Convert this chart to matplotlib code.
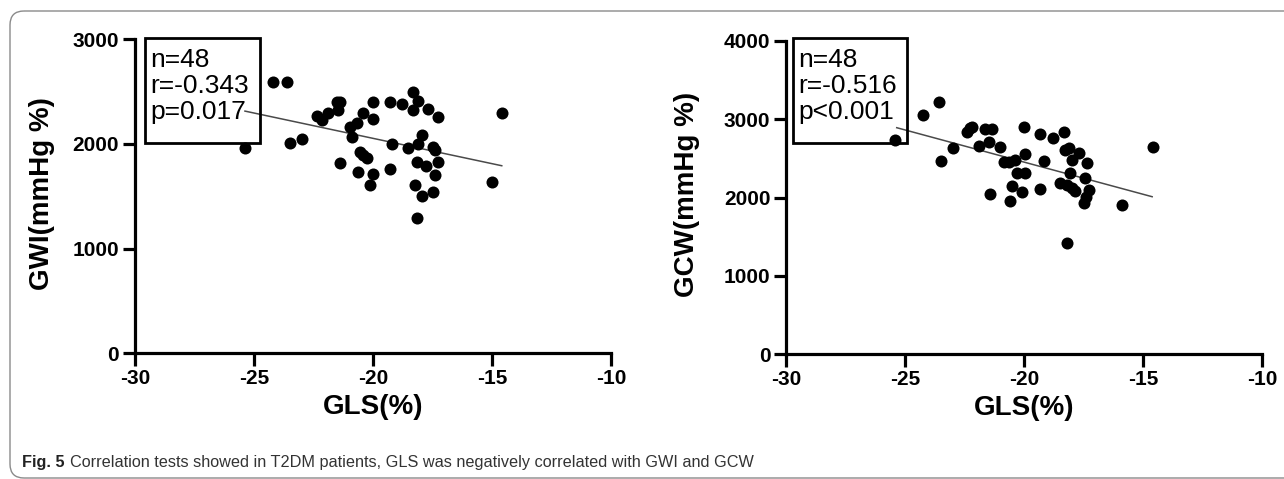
import matplotlib
matplotlib.use("Agg")
import matplotlib.pyplot as plt
from matplotlib.patches import Rectangle, FancyBboxPatch
import numpy as np

# ---------------- data ----------------
gls_gwi = [-24.19, -23.63, -25.38, -23.49, -22.97, -22.37, -22.16, -21.88, -21.53, -21.39,
           -21.46, -20.97, -20.68, -20.89, -20.41, -19.99, -19.99, -21.39, -20.55, -20.41,
           -20.26, -20.62, -19.99, -20.13, -19.29, -18.79, -18.31, -18.10, -18.31, -17.68,
           -17.26, -19.19, -18.52, -18.10, -17.95, -17.47, -17.39, -18.16, -17.79, -17.28,
           -17.39, -19.29, -18.24, -17.95, -17.47, -18.16, -15.00, -14.59]
gwi = [2594, 2594, 1958, 2011, 2044, 2266, 2228, 2292, 2403, 2403,
       2324, 2164, 2197, 2069, 2298, 2403, 2235, 1820, 1926, 1894,
       1868, 1734, 1713, 1607, 2403, 2381, 2499, 2413, 2324, 2333,
       2254, 1999, 1958, 1999, 2085, 1968, 1942, 1830, 1789, 1830,
       1703, 1757, 1607, 1505, 1543, 1289, 1639, 2292]
gwi_fit_x = [-25.38, -14.59]
gwi_fit_y = [2314, 1792]

gls_gcw = [-25.43, -24.24, -23.60, -23.50, -23.01, -22.41, -22.27, -22.20, -21.64, -21.36,
           -21.50, -21.92, -21.01, -21.43, -20.87, -20.66, -20.37, -20.30, -19.95, -20.51,
           -20.09, -20.61, -20.02, -19.95, -19.32, -18.79, -18.31, -19.18, -19.32, -18.27,
           -18.13, -17.99, -17.71, -18.09, -18.48, -18.20, -17.99, -17.85, -17.36, -17.43,
           -17.50, -17.29, -17.39, -15.88, -14.59, -18.20]
gcw = [2735, 3054, 3217, 2470, 2629, 2841, 2884, 2897, 2875, 2871,
       2713, 2658, 2649, 2045, 2458, 2458, 2479, 2309, 2309, 2151,
       2066, 1955, 2905, 2556, 2811, 2764, 2841, 2470, 2109, 2607,
       2629, 2479, 2565, 2309, 2189, 2160, 2118, 2083, 2437, 2245,
       1926, 2096, 2010, 1904, 2649, 1415]
gcw_fit_x = [-25.36, -14.62]
gcw_fit_y = [2892, 2010]

x_ticks = [-30, -25, -20, -15, -10]
gwi_ticks = [0, 1000, 2000, 3000]
gcw_ticks = [0, 1000, 2000, 3000, 4000]
stats_gwi = ["n=48", "r=-0.343", "p=0.017"]
stats_gcw = ["n=48", "r=-0.516", "p<0.001"]
caption_bold = "Fig. 5"
caption_text = "Correlation tests showed in T2DM patients, GLS was negatively correlated with GWI and GCW"

# ---------------- figure ----------------
W, H = 1284, 479
fig = plt.figure(figsize=(W / 100, H / 100), dpi=100)
fig.patch.set_facecolor("white")

FAM = ["Liberation Sans", "DejaVu Sans"]

# rounded frame + caption
bg = fig.add_axes([0, 0, 1, 1], zorder=-5)
bg.set_xlim(0, W)
bg.set_ylim(H, 0)
bg.axis("off")
bg.add_patch(FancyBboxPatch((10, 11), 1320, 467, boxstyle="round,pad=0,rounding_size=14",
                            fc="none", ec="#8a8a8a", lw=1.0))
bg.text(22, 462, caption_bold, fontsize=11.7, va="center", ha="left",
        family=FAM, weight="bold", color="#222")
bg.text(70, 462, caption_text, fontsize=11.7, va="center", ha="left",
        family=FAM, color="#333")


def panel(rect, x, y, fx, fy, yticks, ylabel, stats, box, ylab_x):
    ax = fig.add_axes(rect)
    ax.scatter(x, y, s=75, color="black", zorder=3, linewidths=0, clip_on=False)
    ax.plot(fx, fy, color="#4a4a4a", lw=1.1, zorder=2)
    ax.set_xlim(-30, -10)
    ax.set_ylim(yticks[0], yticks[-1])
    for s in ["top", "right"]:
        ax.spines[s].set_visible(False)
    for s in ["left", "bottom"]:
        ax.spines[s].set_linewidth(2.3)
    ax.set_xticks(x_ticks)
    ax.set_yticks(yticks)
    ax.set_xticklabels([str(t) for t in x_ticks])
    ax.set_yticklabels([str(t) for t in yticks])
    ax.tick_params(direction="out", length=9, width=2.3, pad=2.5, labelsize=15)
    for lab in ax.get_xticklabels() + ax.get_yticklabels():
        lab.set_fontfamily(FAM)
        lab.set_fontweight("bold")
    ax.set_xlabel("GLS(%)", fontsize=20, family=FAM, weight="bold")
    ax.set_ylabel(ylabel, fontsize=20, family=FAM, weight="bold")
    ax.xaxis.set_label_coords(0.5, -0.13)
    ax.yaxis.label.set_va("center")
    ax.yaxis.set_label_coords(ylab_x, 0.51)
    x0, x1, y0, y1 = box
    ax.add_patch(Rectangle((x0, y0), x1 - x0, y1 - y0, transform=ax.transAxes,
                           fill=False, ec="black", lw=2.0, clip_on=False, zorder=4))
    ax.text(x0 + 0.011, y1 - 0.03, "\n".join(stats), transform=ax.transAxes,
            fontsize=19, va="top", ha="left", linespacing=1.12, zorder=5, family=FAM)
    return ax


panel([135 / W, (H - 353.3) / H, 476 / W, 314 / H], gls_gwi, gwi, gwi_fit_x, gwi_fit_y,
      gwi_ticks, "GWI(mmHg %)", stats_gwi, (0.021, 0.2626, 0.6697, 1.003), -0.195)
panel([786.4 / W, (H - 354) / H, 475.6 / W, 313 / H], gls_gcw, gcw, gcw_fit_x, gcw_fit_y,
      gcw_ticks, "GCW(mmHg %)", stats_gcw, (0.0145, 0.253, 0.675, 1.0086), -0.21)

fig.savefig("out.png", dpi=100, facecolor="white")
